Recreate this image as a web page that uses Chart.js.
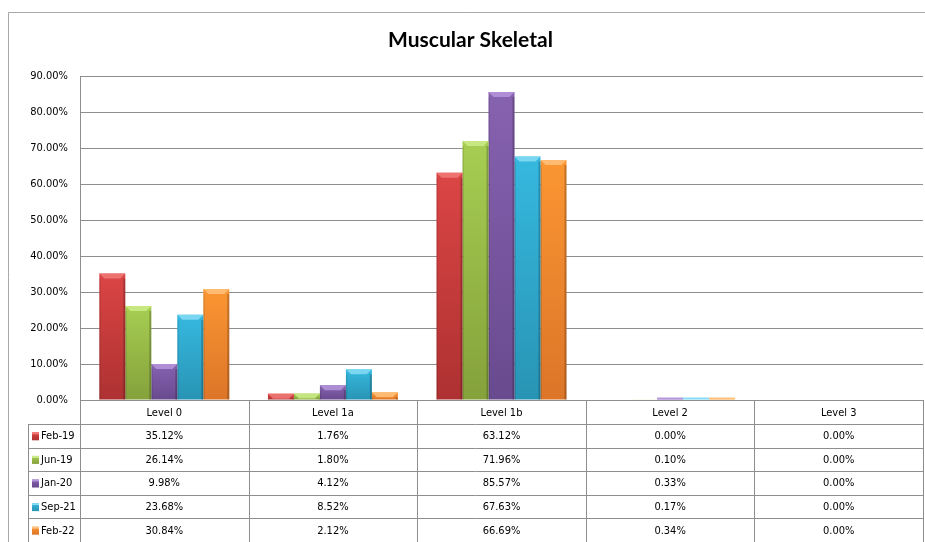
<!DOCTYPE html>
<html>
<head>
<meta charset="utf-8">
<title>Muscular Skeletal</title>
<script src="https://cdn.jsdelivr.net/npm/chart.js@4/dist/chart.umd.min.js"></script>
<style>
  html, body { margin: 0; padding: 0; background: #ffffff; }
  #c { display: block; }
</style>
</head>
<body>
<canvas id="c" width="925" height="542"></canvas>
<script>
// ---- data ----
const categories = ['Level 0', 'Level 1a', 'Level 1b', 'Level 2', 'Level 3'];
const seriesNames = ['Feb-19', 'Jun-19', 'Jan-20', 'Sep-21', 'Feb-22'];
const feb19 = [35.12, 1.76, 63.12, 0.00, 0.00];
const jun19 = [26.14, 1.80, 71.96, 0.10, 0.00];
const jan20 = [9.98, 4.12, 85.57, 0.33, 0.00];
const sep21 = [23.68, 8.52, 67.63, 0.17, 0.00];
const feb22 = [30.84, 2.12, 66.69, 0.34, 0.00];
const yTickValues = [0, 10, 20, 30, 40, 50, 60, 70, 80, 90];
const seriesValues = [feb19, jun19, jan20, sep21, feb22];

// ---- styling ----
const FONT = '"DejaVu Sans Condensed", "DejaVu Sans", sans-serif';
const TITLE_FONT = 'Lato, "DejaVu Sans", sans-serif';
const GRID = '#8e8e8e';
const palette = [
  { top: '#DB4545', bottom: '#AE3131', light: '#F07A78' },
  { top: '#A7CE52', bottom: '#84A13B', light: '#CDEB8A' },
  { top: '#8762B0', bottom: '#684A8E', light: '#B596DA' },
  { top: '#36B8DF', bottom: '#2894B4', light: '#86DCF4' },
  { top: '#FB9633', bottom: '#DC7528', light: '#FFC27E' }
];

function barFill(series) {
  return (ctx) => {
    const chart = ctx.chart;
    const ys = chart.scales.y;
    const col = palette[series];
    if (!chart.chartArea || !ys || ctx.type !== 'data') return col.top;
    const yTop = ys.getPixelForValue(ctx.raw);
    const yBase = ys.getPixelForValue(0);
    if (yBase - yTop < 2) return col.light;
    const g = chart.ctx.createLinearGradient(0, yTop, 0, yBase);
    g.addColorStop(0, col.top);
    g.addColorStop(1, col.bottom);
    return g;
  };
}

// outer frame behind everything
const framePlugin = {
  id: 'frame',
  beforeDraw(chart) {
    const c = chart.ctx;
    c.save();
    c.strokeStyle = '#a8a8a8';
    c.lineWidth = 1;
    c.beginPath();
    c.moveTo(8.5, chart.height);
    c.lineTo(8.5, 12.5);
    c.lineTo(chart.width, 12.5);
    c.stroke();
    c.restore();
  }
};

// bevelled top and shaded sides on each bar
const bevelPlugin = {
  id: 'bevel',
  afterDatasetsDraw(chart) {
    const c = chart.ctx;
    c.save();
    chart.data.datasets.forEach((ds, di) => {
      const meta = chart.getDatasetMeta(di);
      const col = palette[di];
      meta.data.forEach((el) => {
        const p = el.getProps(['x', 'y', 'base', 'width'], true);
        const h = p.base - p.y;
        if (h <= 0.01) return;
        const l = p.x - p.width / 2;
        const r = p.x + p.width / 2;
        if (h < 2) {
          // hairline bars: keep a visible sliver of the bevel colour
          c.fillStyle = col.light;
          c.fillRect(l, p.base - 2, p.width, 2);
          return;
        }
        const b = Math.min(5, h);
        // top bevel
        c.fillStyle = col.light;
        c.globalAlpha = 0.85;
        c.beginPath();
        c.moveTo(l, p.y);
        c.lineTo(r, p.y);
        c.lineTo(r - b, p.y + b);
        c.lineTo(l + b, p.y + b);
        c.closePath();
        c.fill();
        c.globalAlpha = 1;
        if (h > 3) {
          // side shading
          c.fillStyle = 'rgba(0,0,0,0.10)';
          c.fillRect(l, p.y + b, 1.5, h - b);
          c.fillStyle = 'rgba(0,0,0,0.22)';
          c.fillRect(r - 2, p.y + b, 2, h - b);
        }
      });
    });
    c.restore();
  }
};

// data table under the plot
const tablePlugin = {
  id: 'dataTable',
  afterDraw(chart) {
    const c = chart.ctx;
    const area = chart.chartArea;
    const xs = chart.scales.x;
    const n = categories.length;
    const colW = (area.right - area.left) / n;
    const legendLeft = 28;
    const headerBottom = 424;
    const rowH = (chart.height - headerBottom) / seriesNames.length;
    const px = (v) => Math.round(v) + 0.5;

    c.save();
    c.strokeStyle = GRID;
    c.lineWidth = 1;
    c.beginPath();
    // axis / header top
    c.moveTo(area.left, px(area.bottom));
    c.lineTo(area.right, px(area.bottom));
    // column separators
    for (let i = 0; i <= n; i++) {
      const x = px(area.left + i * colW);
      c.moveTo(x, area.bottom);
      c.lineTo(x, chart.height);
    }
    // legend column left edge
    c.moveTo(legendLeft + 0.5, headerBottom);
    c.lineTo(legendLeft + 0.5, chart.height);
    // row separators
    for (let r = 0; r <= seriesNames.length; r++) {
      const y = px(headerBottom + r * rowH);
      c.moveTo(legendLeft, y);
      c.lineTo(area.right, y);
    }
    c.stroke();

    c.fillStyle = '#000';
    c.font = '11px ' + FONT;
    c.textBaseline = 'middle';
    c.textAlign = 'center';
    categories.forEach((name, i) => {
      c.fillText(name, xs.getPixelForValue(i), (area.bottom + headerBottom) / 2 + 1);
    });

    seriesNames.forEach((name, r) => {
      const yc = headerBottom + r * rowH + rowH / 2 + 0.5;
      // legend key
      const col = palette[r];
      const g = c.createLinearGradient(0, yc - 4, 0, yc + 4);
      g.addColorStop(0, col.top);
      g.addColorStop(1, col.bottom);
      c.fillStyle = g;
      c.fillRect(32, yc - 4, 7, 8);
      c.fillStyle = col.light;
      c.fillRect(32, yc - 4, 7, 2);
      // series name
      c.fillStyle = '#000';
      c.textAlign = 'left';
      c.fillText(name, 41, yc);
      // values
      c.textAlign = 'center';
      seriesValues[r].forEach((v, i) => {
        c.fillText(v.toFixed(2) + '%', xs.getPixelForValue(i), yc);
      });
    });
    c.restore();
  }
};

new Chart(document.getElementById('c'), {
  type: 'bar',
  data: {
    labels: categories,
    datasets: seriesNames.map((name, i) => ({
      label: name,
      data: seriesValues[i],
      backgroundColor: barFill(i),
      borderWidth: 0,
      categoryPercentage: 0.771,
      barPercentage: 1.0
    }))
  },
  options: {
    responsive: false,
    animation: false,
    devicePixelRatio: 1,
    layout: { padding: { left: 18, top: 19, right: 2, bottom: 142 } },
    plugins: {
      legend: { display: false },
      tooltip: { enabled: false },
      title: {
        display: true,
        text: 'Muscular Skeletal',
        color: '#000',
        font: { family: TITLE_FONT, size: 21, weight: 'bold' },
        padding: { top: 9, bottom: 22.8 }
      }
    },
    scales: {
      x: {
        display: false
      },
      y: {
        min: 0,
        max: 90,
        afterFit(scale) { scale.width = 62; },
        afterBuildTicks(scale) { scale.ticks = yTickValues.map((v) => ({ value: v })); },
        ticks: {
          color: '#000',
          padding: 12,
          font: { family: FONT, size: 11 },
          callback: (v) => Number(v).toFixed(2) + '%'
        },
        grid: { color: GRID, drawTicks: false, lineWidth: 1 },
        border: { display: true, color: GRID }
      }
    }
  },
  plugins: [framePlugin, bevelPlugin, tablePlugin]
});
</script>
</body>
</html>
